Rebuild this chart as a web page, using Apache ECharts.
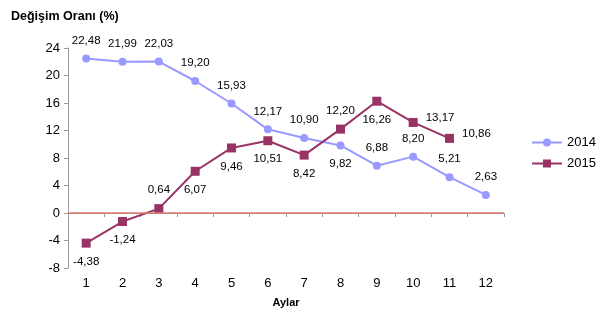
<!DOCTYPE html>
<html>
<head>
<meta charset="utf-8">
<script src="https://cdn.jsdelivr.net/npm/echarts@6/dist/echarts.min.js"></script>
<style>
  html, body { margin: 0; padding: 0; background: #fff; }
  #chart { width: 600px; height: 315px; }
</style>
</head>
<body>
<div id="chart"></div>
<script>
// aylar (months)
var months = ['1', '2', '3', '4', '5', '6', '7', '8', '9', '10', '11', '12'];
var values2014 = [22.48, 21.99, 22.03, 19.20, 15.93, 12.17, 10.90, 9.82, 6.88, 8.20, 5.21, 2.63];
var values2015 = [-4.38, -1.24, 0.64, 6.07, 9.46, 10.51, 8.42, 12.20, 16.26, 13.17, 10.86];

// where each value label sits
var labelPos2014 = ['top', 'top', 'top', 'top', 'top', 'top', 'top', 'bottom', 'top', 'top', 'top', 'top'];
var labelPos2015 = ['bottom', 'bottom', 'top', 'bottom', 'bottom', 'bottom', 'bottom', 'top', 'bottom', 'right', 'right'];

function fmt(v) {
  return v.toFixed(2).replace('.', ',');
}

function withLabels(vals, pos) {
  return vals.map(function (v, i) {
    var item = { value: v, label: { position: pos[i] } };
    if (pos[i] === 'right') item.label.offset = [0, -5];
    return item;
  });
}

var chart = echarts.init(document.getElementById('chart'));

var option = {
  animation: false,
  textStyle: { fontFamily: 'Liberation Sans, Arial, sans-serif' },
  title: {
    text: 'Değişim Oranı (%)',
    left: 6,
    top: 5,
    textStyle: { fontSize: 12.5, fontWeight: 'bold', color: '#000', fontFamily: 'Liberation Sans, Arial, sans-serif' }
  },
  legend: {
    orient: 'vertical',
    left: 526,
    top: 131,
    itemGap: 8,
    itemWidth: 30,
    itemHeight: 10,
    textStyle: { fontSize: 13, color: '#000' },
    data: ['2014', '2015']
  },
  grid: { left: 68, right: 96, top: 48, bottom: 47 },
  xAxis: {
    type: 'category',
    data: months,
    boundaryGap: true,
    name: 'Aylar',
    nameLocation: 'middle',
    nameGap: 29,
    nameTextStyle: { fontSize: 11, fontWeight: 'bold', color: '#000' },
    axisLine: { lineStyle: { color: '#999', width: 1 } },
    axisTick: { show: true, alignWithLabel: false, length: 4, lineStyle: { color: '#999' } },
    axisLabel: { color: '#000', fontSize: 13, margin: 9 },
    splitLine: { show: false }
  },
  yAxis: {
    type: 'value',
    min: -8,
    max: 24,
    interval: 4,
    axisLine: { show: true, lineStyle: { color: '#999', width: 1 } },
    axisTick: { show: true, length: 4, lineStyle: { color: '#999' } },
    axisLabel: { color: '#000', fontSize: 13, margin: 8 },
    splitLine: { show: false }
  },
  series: [
    {
      name: '2014',
      type: 'line',
      data: withLabels(values2014, labelPos2014),
      symbol: 'circle',
      symbolSize: 8,
      lineStyle: { color: '#9999ff', width: 2 },
      itemStyle: { color: '#9999ff' },
      label: {
        show: true,
        fontSize: 11.5,
        color: '#000',
        distance: 8,
        formatter: function (p) { return fmt(p.value); }
      },
      markLine: {
        silent: true,
        symbol: 'none',
        label: { show: false },
        lineStyle: { color: '#e07a70', width: 1.5, type: 'solid' },
        data: [{ yAxis: 0 }]
      },
      z: 3
    },
    {
      name: '2015',
      type: 'line',
      data: withLabels(values2015, labelPos2015),
      symbol: 'rect',
      symbolSize: 9,
      lineStyle: { color: '#993366', width: 2 },
      itemStyle: { color: '#993366' },
      label: {
        show: true,
        fontSize: 11.5,
        color: '#000',
        distance: 8,
        formatter: function (p) { return fmt(p.value); }
      },
      z: 4
    }
  ]
};

chart.setOption(option);
</script>
</body>
</html>
